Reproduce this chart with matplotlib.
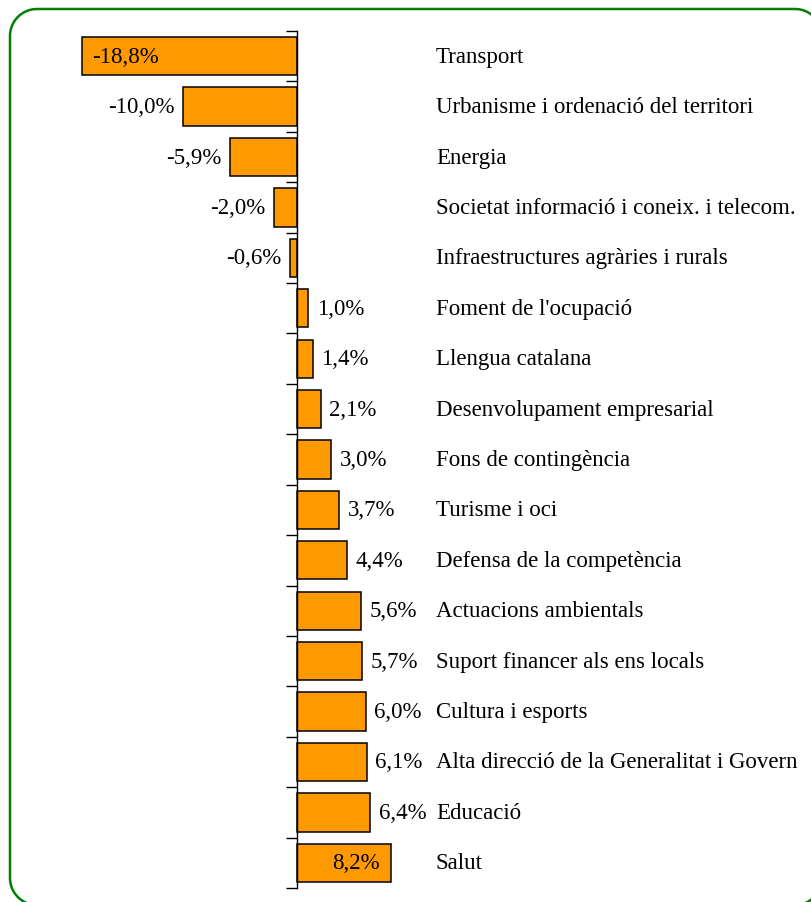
import numpy as np
import matplotlib.pyplot as plt
from matplotlib.patches import Polygon
from matplotlib.transforms import blended_transform_factory

categories = ["Transport", "Urbanisme i ordenació del territori", "Energia",
              "Societat informació i coneix. i telecom.", "Infraestructures agràries i rurals",
              "Foment de l'ocupació", "Llengua catalana", "Desenvolupament empresarial",
              "Fons de contingència", "Turisme i oci", "Defensa de la competència",
              "Actuacions ambientals", "Suport financer als ens locals", "Cultura i esports",
              "Alta direcció de la Generalitat i Govern", "Educació", "Salut"]
values = [-18.8, -10.0, -5.9, -2.0, -0.6, 1.0, 1.4, 2.1, 3.0, 3.7, 4.4,
          5.6, 5.7, 6.0, 6.1, 6.4, 8.2]

plt.rcParams['font.family'] = ['Liberation Serif', 'DejaVu Serif']
W, H = 812, 903
fig = plt.figure(figsize=(W / 100, H / 100), dpi=100)

# background axes in pixel units (y down), used for the rounded green frame
bg = fig.add_axes([0, 0, 1, 1])
bg.set_xlim(0, W)
bg.set_ylim(H, 0)
bg.axis('off')

def rounded_rect(x0, y0, x1, y1, r):
    pts = []
    corners = [(x1 - r, y0 + r, -90, 0), (x1 - r, y1 - r, 0, 90),
               (x0 + r, y1 - r, 90, 180), (x0 + r, y0 + r, 180, 270)]
    for cx, cy, a0, a1 in corners:
        t = np.radians(np.linspace(a0, a1, 30))
        pts.extend(zip(cx + r * np.cos(t), cy + r * np.sin(t)))
    return pts

frame = Polygon(rounded_rect(10, 10, 822, 906, 27), closed=True, facecolor='none',
                edgecolor='#008000', lw=1.8, clip_on=False, joinstyle='round')
bg.add_patch(frame)

# axes placed in pixels: zero line at x=297, 11.44 px per percent
px_per = 11.44
x0 = 297
xmin, xmax = -20, 10
left = x0 + xmin * px_per
right = x0 + xmax * px_per
top, bottom = 32, 889
ax = fig.add_axes([left / W, (H - bottom) / H, (right - left) / W, (bottom - top) / H])
ax.patch.set_alpha(0)

n = len(values)
ypos = list(range(n))
ax.barh(ypos, values, height=0.76, color='#FF9900', edgecolor='black', linewidth=1.1, zorder=2)
ax.set_xlim(xmin, xmax)
ax.set_ylim(n - 0.5, -0.5)

for s in ['top', 'right', 'bottom']:
    ax.spines[s].set_visible(False)
ax.spines['left'].set_position(('data', 0))
ax.spines['left'].set_linewidth(1.0)
ax.set_xticks([])
ax.set_yticks([i - 0.5 for i in range(n + 1)])
ax.set_yticklabels([])
ax.tick_params(axis='y', direction='out', length=8, width=1.0)

fs = 16.5
for i, v in enumerate(values):
    lab = f"{v:.1f}%".replace('.', ',')
    if i == 0:
        ax.annotate(lab, (v, i), xytext=(7, 0), textcoords='offset points',
                    ha='left', va='center', fontsize=fs)
    elif i == n - 1:
        ax.annotate(lab, (v, i), xytext=(-8, 0), textcoords='offset points',
                    ha='right', va='center', fontsize=fs)
    elif v < 0:
        ax.annotate(lab, (v, i), xytext=(-6, 0), textcoords='offset points',
                    ha='right', va='center', fontsize=fs)
    else:
        ax.annotate(lab, (v, i), xytext=(6, 0), textcoords='offset points',
                    ha='left', va='center', fontsize=fs)

trans = blended_transform_factory(fig.transFigure, ax.transData)
for i, c in enumerate(categories):
    ax.text(436 / W, i, c, transform=trans, ha='left', va='center', fontsize=fs, clip_on=False)

fig.savefig('out.png', dpi=100)
